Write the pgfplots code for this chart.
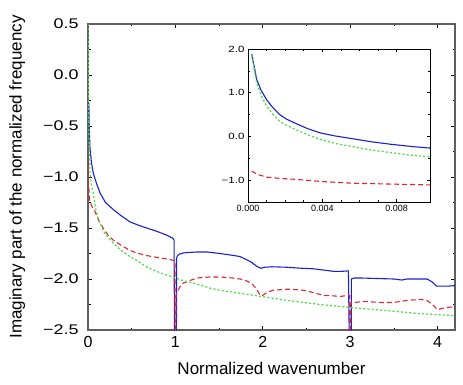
\documentclass[border=0pt]{standalone}
\usepackage{fontspec}
\setmainfont{Liberation Sans}
\newfontfamily\widefont{Liberation Sans}[FakeStretch=1.28]
\usepackage{pgfplots}
\pgfplotsset{compat=1.18}

\definecolor{cblue}{RGB}{25,35,205}
\definecolor{cred}{RGB}{220,40,50}
\definecolor{cgreen}{RGB}{80,220,70}
\definecolor{caxis}{RGB}{95,95,95}

\pgfplotsset{
  myaxis/.style={
    scale only axis,
    axis line style={caxis, line width=1.1pt},
    tick style={black, line width=0.6pt},
    tick align=inside,
    major tick length=4pt,
    minor tick length=2.5pt,
    clip=true,
  },
  bluecurve/.style={cblue, line width=1.1pt},
  redcurve/.style={cred, line width=1.1pt, dash pattern=on 5pt off 3pt},
  greencurve/.style={cgreen, line width=1.2pt, dash pattern=on 2.2pt off 2pt},
}

\begin{document}
\begin{tikzpicture}
\begin{axis}[myaxis,
  name=main,
  width=367pt, height=306pt,
  xmin=0, xmax=4.2, ymin=-2.5, ymax=0.5,
  xtick={0,1,2,3,4}, xticklabels={0,1,2,3,4},
  minor x tick num=1,
  ytick={-2.5,-2,-1.5,-1,-0.5,0,0.5},
  yticklabels={−2.5,−2.0,−1.5,−1.0,−0.5,0.0,0.5},
  minor y tick num=1,
  xticklabel style={font=\fontsize{16}{16}\selectfont, yshift=-3pt},
  yticklabel style={font=\widefont\fontsize{14}{14}\selectfont, xshift=-6pt},
  label style={font=\fontsize{17}{17}\selectfont},
  xlabel={Normalized wavenumber},
  ylabel={Imaginary part of the normalized frequency},
  xlabel style={at={(axis description cs:0.5,-0.124)}, anchor=center},
  ylabel style={at={(axis description cs:-0.193,0.5)}, anchor=center},
]
% blue: solid
\addplot[bluecurve] coordinates {
(0.0096,-0.27) (0.015,-0.55) (0.023,-0.72) (0.04,-0.86) (0.06,-0.96)
(0.1,-1.07) (0.14,-1.16) (0.2,-1.25) (0.29,-1.32) (0.38,-1.38)
(0.48,-1.44) (0.57,-1.47) (0.67,-1.50) (0.78,-1.53) (0.9,-1.57)
(0.97,-1.60) (0.985,-1.62) (0.99,-2.6) (1.012,-2.6) (1.013,-1.80)
(1.025,-1.77) (1.05,-1.755) (1.09,-1.745) (1.15,-1.74) (1.25,-1.735)
(1.36,-1.735) (1.51,-1.75) (1.67,-1.77) (1.74,-1.78) (1.86,-1.83)
(1.94,-1.88) (1.98,-1.895) (2.02,-1.885) (2.1,-1.88) (2.28,-1.885)
(2.45,-1.895) (2.58,-1.90) (2.72,-1.915) (2.81,-1.925) (2.9,-1.925)
(2.98,-1.92) (2.99,-2.6) (3.012,-2.6) (3.014,-2.0) (3.05,-1.99)
(3.12,-1.99) (3.3,-1.995) (3.5,-2.0) (3.59,-2.01) (3.65,-2.0)
(3.8,-2.0) (3.88,-2.0) (3.94,-2.03) (3.99,-2.07) (4.05,-2.07)
(4.12,-2.07) (4.2,-2.065)
};
% red: dashed
\addplot[redcurve] coordinates {
(0.0001,-0.79) (0.001,-0.93) (0.0025,-0.98) (0.0039,-1.04) (0.0056,-1.07)
(0.0077,-1.09) (0.0099,-1.11) (0.02,-1.23) (0.04,-1.28) (0.08,-1.34)
(0.12,-1.42) (0.18,-1.51) (0.23,-1.57) (0.29,-1.62) (0.38,-1.67)
(0.48,-1.72) (0.58,-1.75) (0.67,-1.77) (0.8,-1.79) (0.94,-1.81)
(0.995,-1.82) (0.997,-2.6) (1.005,-2.6) (1.008,-2.15) (1.02,-2.13)
(1.05,-2.08) (1.09,-2.04) (1.15,-2.02) (1.25,-1.99) (1.4,-1.98)
(1.51,-1.98) (1.65,-1.99) (1.74,-2.0) (1.82,-2.02) (1.88,-2.05)
(1.93,-2.1) (1.97,-2.16) (2.0,-2.16) (2.05,-2.13) (2.12,-2.11)
(2.28,-2.10) (2.4,-2.105) (2.5,-2.115) (2.6,-2.14) (2.7,-2.16)
(2.89,-2.17) (2.995,-2.16) (2.997,-2.6) (3.005,-2.6) (3.008,-2.24)
(3.05,-2.23) (3.15,-2.22) (3.35,-2.23) (3.5,-2.23) (3.65,-2.21)
(3.8,-2.20) (3.88,-2.21) (3.94,-2.25) (4.0,-2.30) (4.1,-2.28)
(4.2,-2.27)
};
% green: dotted
\addplot[greencurve] coordinates {
(0.0001,1.9) (0.0005,1.23) (0.001,0.69) (0.0017,0.35) (0.0025,0.17)
(0.0039,-0.07) (0.0056,-0.23) (0.0077,-0.37) (0.0099,-0.47) (0.015,-0.72)
(0.023,-0.96) (0.04,-1.08) (0.06,-1.16) (0.09,-1.32) (0.12,-1.42)
(0.19,-1.55) (0.29,-1.65) (0.38,-1.72) (0.48,-1.78) (0.58,-1.83)
(0.67,-1.88) (0.77,-1.92) (0.86,-1.95) (1.0,-1.99) (1.1,-2.02)
(1.21,-2.04) (1.4,-2.09) (1.51,-2.11) (1.74,-2.14) (1.97,-2.17)
(2.28,-2.21) (2.66,-2.25) (3.0,-2.28) (3.42,-2.31) (3.8,-2.34)
(4.2,-2.36)
};
\end{axis}

\begin{axis}[myaxis,
  name=inset,
  at={(main.south west)}, anchor=south west,
  xshift=160pt, yshift=128pt,
  width=182pt, height=153pt,
  xmin=0, xmax=0.0098, ymin=-1.5, ymax=2,
  scaled x ticks=false,
  xtick={0,0.004,0.008}, xticklabels={0.000,0.004,0.008},
  minor x tick num=3,
  ytick={-1,0,1,2}, yticklabels={−1.0,0.0,1.0,2.0},
  minor y tick num=1,
  major tick length=3pt,
  minor tick length=2pt,
  axis line style={black, line width=0.8pt},
  xticklabel style={font=\fontsize{9}{9}\selectfont},
  yticklabel style={font=\widefont\fontsize{9}{9}\selectfont},
  axis background/.style={fill=white},
]
\addplot[bluecurve] coordinates {
(0.0002,1.88) (0.00047,1.30) (0.0007,1.06) (0.001,0.84) (0.0013,0.68)
(0.0017,0.50) (0.0021,0.39) (0.0025,0.31) (0.0032,0.18) (0.0039,0.08)
(0.0047,0.01) (0.0056,-0.05) (0.0066,-0.12) (0.0077,-0.18) (0.0088,-0.23)
(0.0099,-0.27)
};
\addplot[redcurve] coordinates {
(0.0002,-0.79) (0.0005,-0.87) (0.001,-0.93) (0.0017,-0.96) (0.0025,-0.98)
(0.0039,-1.03) (0.0056,-1.07) (0.0077,-1.09) (0.0099,-1.11)
};
\addplot[greencurve] coordinates {
(0.0002,1.86) (0.00047,1.23) (0.0007,0.95) (0.001,0.69) (0.0013,0.52)
(0.0017,0.35) (0.0021,0.25) (0.0025,0.17) (0.0032,0.04) (0.0039,-0.07)
(0.0047,-0.16) (0.0056,-0.23) (0.0066,-0.31) (0.0077,-0.37) (0.0088,-0.43)
(0.0099,-0.47)
};
\end{axis}

\pgfresetboundingbox
\path ([shift={(-88pt,-54pt)}]main.south west) rectangle ([shift={(8pt,24pt)}]main.north east);
\end{tikzpicture}
\end{document}
